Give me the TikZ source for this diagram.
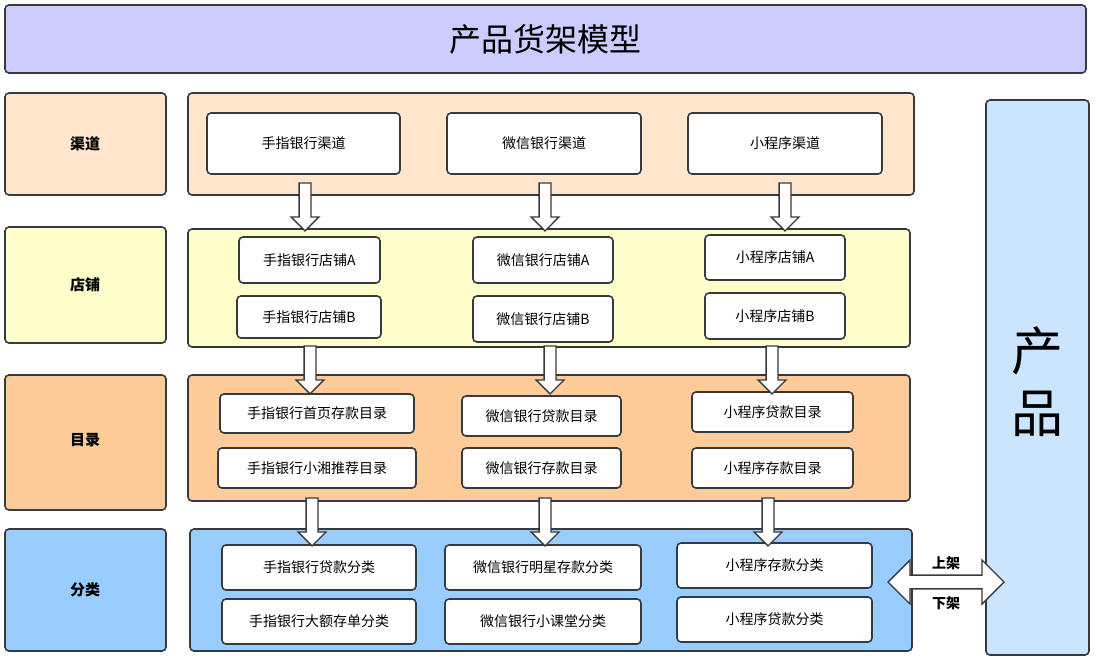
\documentclass[tikz,border=0pt]{standalone}
\usepackage{fontspec}
\setmainfont{Noto Sans CJK SC}
\usetikzlibrary{shapes.arrows}
\definecolor{titlec}{HTML}{CCCCFF}
\definecolor{chanc}{HTML}{FFE6CC}
\definecolor{shopc}{HTML}{FFFFCC}
\definecolor{catc}{HTML}{FFCC99}
\definecolor{clsc}{HTML}{99CCFF}
\definecolor{prodc}{HTML}{CCE5FF}
\definecolor{linec}{HTML}{36393D}
\begin{document}
\begin{tikzpicture}[x=1pt,y=-1pt,
  thick,
  panel/.style={draw=linec,line width=1.6pt,rounded corners=4pt},
  item/.style={draw=linec,line width=1.6pt,rounded corners=4pt,fill=white,font=\fontsize{14}{16}\selectfont},
  side/.style={panel,font=\fontsize{15}{18}\selectfont\bfseries},
  down/.style={single arrow,draw=linec,line width=1.4pt,fill=white,shape border rotate=270,
    minimum height=48pt,minimum width=28pt,single arrow head extend=5pt,inner sep=3pt}]

  \useasboundingbox (0,0) rectangle (1097,659);

  % title
  \draw[panel,fill=titlec] (5,5) rectangle (1086,73);
  \node[font=\fontsize{32}{36}\selectfont] (title) at (545.5,39) {产品货架模型};

  % left labels
  \draw[side,fill=chanc] (5,93) rectangle (166,195);
  \node[font=\fontsize{15}{18}\selectfont\bfseries] (l1) at (85,144) {渠道};
  \draw[side,fill=shopc] (5,227) rectangle (166,343);
  \node[font=\fontsize{15}{18}\selectfont\bfseries] (l2) at (85,285) {店铺};
  \draw[side,fill=catc] (5,375) rectangle (166,510);
  \node[font=\fontsize{15}{18}\selectfont\bfseries] (l3) at (85,440) {目录};
  \draw[side,fill=clsc] (5,529) rectangle (166,651);
  \node[font=\fontsize{15}{18}\selectfont\bfseries] (l4) at (85,590) {分类};

  % rows
  \draw[panel,fill=chanc] (188,93) rectangle (914,195);
  \draw[panel,fill=shopc] (188,229) rectangle (910,347);
  \draw[panel,fill=catc] (188,375) rectangle (910,501);
  \draw[panel,fill=clsc] (190,529) rectangle (912,651);

  % product
  \draw[panel,fill=prodc] (986,100) rectangle (1089,655);
  \node[font=\fontsize{52}{62}\selectfont,align=center] (prod) at (1037,382) {产\\品};

  % channels
  \node[item,minimum width=193pt,minimum height=61pt] (c1) at (303.5,143.5) {手指银行渠道};
  \node[item,minimum width=194pt,minimum height=61pt] (c2) at (544,143.5) {微信银行渠道};
  \node[item,minimum width=194pt,minimum height=61pt] (c3) at (785,143.5) {小程序渠道};

  % shops
  \node[item,minimum width=141pt,minimum height=46pt] (s1) at (309.5,260) {手指银行店铺A};
  \node[item,minimum width=144pt,minimum height=42pt] (s2) at (309,317) {手指银行店铺B};
  \node[item,minimum width=140pt,minimum height=46pt] (s3) at (543,260) {微信银行店铺A};
  \node[item,minimum width=140pt,minimum height=46pt] (s4) at (543,319) {微信银行店铺B};
  \node[item,minimum width=140pt,minimum height=45pt] (s5) at (775,257.5) {小程序店铺A};
  \node[item,minimum width=140pt,minimum height=46pt] (s6) at (775,316) {小程序店铺B};

  % catalogues
  \node[item,minimum width=194pt,minimum height=39pt] (g1) at (317,413.5) {手指银行首页存款目录};
  \node[item,minimum width=198pt,minimum height=40pt] (g2) at (317,468) {手指银行小湘推荐目录};
  \node[item,minimum width=159pt,minimum height=40pt] (g3) at (541.5,416) {微信银行贷款目录};
  \node[item,minimum width=159pt,minimum height=40pt] (g4) at (541.5,468) {微信银行存款目录};
  \node[item,minimum width=161pt,minimum height=40pt] (g5) at (772.5,412) {小程序贷款目录};
  \node[item,minimum width=161pt,minimum height=40pt] (g6) at (772.5,468) {小程序存款目录};

  % classes
  \node[item,minimum width=194pt,minimum height=45pt] (k1) at (319,567.5) {手指银行贷款分类};
  \node[item,minimum width=194pt,minimum height=45pt] (k2) at (319,621.5) {手指银行大额存单分类};
  \node[item,minimum width=196pt,minimum height=45pt] (k3) at (543,567.5) {微信银行明星存款分类};
  \node[item,minimum width=196pt,minimum height=45pt] (k4) at (543,621.5) {微信银行小课堂分类};
  \node[item,minimum width=195pt,minimum height=45pt] (k5) at (774.5,565.5) {小程序存款分类};
  \node[item,minimum width=195pt,minimum height=45pt] (k6) at (774.5,619.5) {小程序贷款分类};

  % hollow arrows
  \foreach \x/\y in {305/204,545/204,785/204,310/367,550/367,772/367,312/519,545/519,768/519}
    \node[down] at (\x,\y) {};

  % shelf arrow
  \node[double arrow,draw=linec,line width=1.4pt,fill=white,minimum height=116pt,
    minimum width=44pt,double arrow head extend=6pt,inner sep=2pt] (shelf) at (946,582) {};
  \node[font=\fontsize{14}{16}\selectfont\bfseries] (up) at (946,563) {上架};
  \node[font=\fontsize{14}{16}\selectfont\bfseries] (off) at (946,603) {下架};
\end{tikzpicture}
\end{document}
